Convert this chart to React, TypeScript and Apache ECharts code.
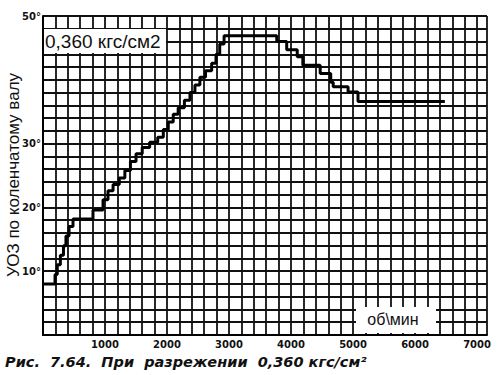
import React, { useEffect, useRef } from "react";
import * as echarts from "echarts";

// Crankshaft speed (rpm) at which each new ignition advance value starts
const rpm = [
  0, 194, 230, 280, 330, 370, 420, 484, 806, 968, 1048, 1130, 1230, 1320, 1410,
  1500, 1600, 1720, 1850, 1940, 2020, 2100, 2180, 2280, 2370, 2450, 2530, 2620,
  2720, 2790, 2850, 2920, 3770, 3930, 4100, 4190, 4470, 4640, 4680, 4920, 5080,
  6480,
];
// Ignition advance angle (degrees)
const advance = [
  8, 9.5, 11, 12.5, 14, 15.5, 17, 18.2, 19.6, 21.2, 22.6, 23.6, 24.6, 25.8, 27.2,
  28.4, 29.4, 30.2, 31.0, 32.2, 33.4, 34.6, 35.6, 36.8, 38.0, 39.2, 40.4, 41.4,
  42.6, 44.0, 45.6, 46.9, 46.0, 44.7, 43.6, 42.3, 41.0, 39.6, 38.9, 38.1, 36.6,
  36.6,
];
const xTickLabels = [1000, 2000, 3000, 4000, 5000, 6000, 7000];
const yTickLabels = [10, 20, 30, 50];

const X_MAX = 7160;
const GRID = { left: 43, right: 13, top: 16, bottom: 40 };

export default function App() {
  const ref = useRef<HTMLDivElement>(null);
  useEffect(() => {
    if (!ref.current) return;
    const chart = echarts.init(ref.current, null, { renderer: "svg" });
    const data = rpm.map((r, i) => [r, advance[i]]);
    const lastX = xTickLabels[xTickLabels.length - 1];
    const tickFont = {
      fontFamily: "DejaVu Sans",
      fontWeight: "bold" as const,
      color: "#111",
    };
    const gridLine = { show: true, lineStyle: { color: "#111", width: 1.8 } };
    chart.setOption({
      animation: false,
      backgroundColor: "#fff",
      grid: { ...GRID },
      xAxis: {
        type: "value",
        min: 0,
        max: X_MAX,
        interval: 200,
        axisLine: { show: true, lineStyle: { color: "#000", width: 2 } },
        axisTick: { show: false },
        splitLine: gridLine,
        axisLabel: {
          ...tickFont,
          fontSize: 10,
          margin: 4,
          customValues: xTickLabels.filter((v) => v !== lastX),
          formatter: (v: number) => String(v),
        },
      },
      yAxis: {
        type: "value",
        min: 0,
        max: 50,
        interval: 2,
        axisLine: { show: true, lineStyle: { color: "#000", width: 2 } },
        axisTick: { show: false },
        splitLine: gridLine,
        axisLabel: {
          ...tickFont,
          fontSize: 10,
          margin: 2,
          showMaxLabel: true,
          customValues: yTickLabels,
          formatter: (v: number) => v + "°",
        },
      },
      series: [
        {
          type: "line",
          step: "end",
          data,
          symbol: "none",
          lineStyle: { color: "#000", width: 3 },
          z: 5,
        },
      ],
    });

    // last tick label, placed through the chart's own scale
    let pt: any = null;
    try {
      pt = chart.convertToPixel({ gridIndex: 0 }, [lastX, 0]);
    } catch (e) {
      pt = null;
    }
    const W = 500;
    const H = 375;
    let lx =
      pt && Number.isFinite(pt[0])
        ? pt[0]
        : GRID.left + (lastX / X_MAX) * (W - GRID.left - GRID.right);
    let ly = pt && Number.isFinite(pt[1]) ? pt[1] : H - GRID.bottom;

    chart.setOption({
      graphic: [
        { type: "rect", id: "box1", shape: { x: 44, y: 29, width: 122, height: 24 }, style: { fill: "#fff" }, z: 10 },
        {
          type: "text",
          id: "pressure",
          x: 45,
          y: 41,
          style: {
            text: "0,360 кгс/см2",
            font: "19px 'Liberation Sans', Arial, sans-serif",
            fill: "#111",
            verticalAlign: "middle",
          },
          z: 11,
        },
        { type: "rect", id: "box2", shape: { x: 356, y: 307, width: 80, height: 26 }, style: { fill: "#fff" }, z: 10 },
        {
          type: "text",
          id: "unit",
          x: 393,
          y: 319,
          style: {
            text: "об\\мин",
            font: "16px 'Liberation Sans', Arial, sans-serif",
            fill: "#111",
            align: "center",
            verticalAlign: "middle",
          },
          z: 11,
        },
        {
          type: "text",
          id: "ytitle",
          x: 13,
          y: 175,
          rotation: Math.PI / 2,
          style: {
            text: "УОЗ по коленчатому валу",
            font: "17px 'Liberation Sans', Arial, sans-serif",
            fill: "#111",
            align: "center",
            verticalAlign: "middle",
          },
        },
        {
          type: "text",
          id: "caption",
          x: 5,
          y: 362,
          style: {
            text: "Рис.  7.64.  При  разрежении  0,360 кгс/см²",
            font: "italic bold 14.5px 'DejaVu Sans', sans-serif",
            fill: "#111",
            verticalAlign: "middle",
          },
        },
        {
          type: "text",
          id: "lastTick",
          x: lx,
          y: ly + 4,
          z: 100,
          style: {
            text: String(lastX),
            font: "bold 10px 'DejaVu Sans', sans-serif",
            fill: "#111",
            align: "center",
            verticalAlign: "top",
          },
        },
      ],
    });
    return () => chart.dispose();
  }, []);
  return (
    <div
      ref={ref}
      style={{ position: "absolute", left: 0, top: 0, width: 500, height: 375 }}
    />
  );
}
